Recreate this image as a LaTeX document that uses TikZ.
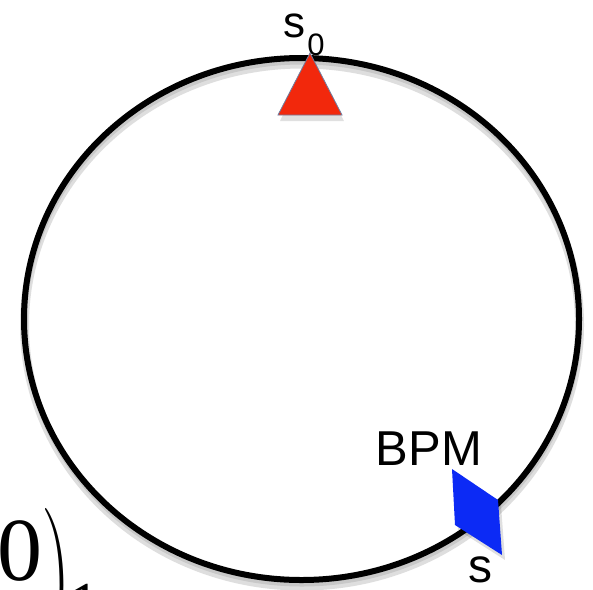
\documentclass[tikz,border=0pt]{standalone}
\usepackage{fontspec}
\setmainfont{Liberation Sans}
\newfontfamily\serifF{Liberation Serif}
\newfontfamily\lmF{Latin Modern Roman}
\definecolor{ringshadow}{RGB}{200,200,200}
\definecolor{trired}{RGB}{242,40,12}
\definecolor{triedge}{RGB}{110,125,160}
\definecolor{bpmblue}{RGB}{12,42,245}
\tikzset{
  ring/.style={draw=black, line width=6pt},
  lbl/.style={inner sep=0pt, anchor=base, text=black},
  shade/.style={fill=black, opacity=0.12, draw=none},
}
\begin{document}
\begin{tikzpicture}[x=1pt,y=-1pt]
\useasboundingbox (0,0) rectangle (593,589);
\clip (0,0) rectangle (593,589);
\fill[white] (0,0) rectangle (593,589);
% ring shadow
\draw[ringshadow!60, line width=9pt] (302,325) ellipse [x radius=277.5, y radius=261];
\draw[ringshadow, line width=5pt] (302,323) ellipse [x radius=277.5, y radius=261];
% ring
\draw[ring] (301.5,319) ellipse [x radius=277.5, y radius=261];
% triangle shadow
\fill[shade] (311,58) -- (344,121) -- (280,121) -- cycle;
% triangle marker at s0
\coordinate (apex) at (310,53);
\coordinate (tl) at (278,115);
\coordinate (tr) at (342,115);
\filldraw[fill=trired, draw=triedge, line width=0.8pt] (apex) -- (tr) -- (tl) -- cycle;
% BPM shadow
\fill[shade] (455,474) -- (501,505) -- (505,560) -- (458,530) -- cycle;
% BPM marker
\coordinate (b1) at (452,469);
\coordinate (b2) at (498,500);
\coordinate (b3) at (502,555);
\coordinate (b4) at (455,525);
\fill[bpmblue] (b1) -- (b2) -- (b3) -- (b4) -- cycle;
% labels
\node[lbl, font=\fontsize{44}{50}\selectfont] (s0s) at (294,37) {s};
\node[lbl, font=\fontsize{31}{36}\selectfont] (s0sub) at (316,55) {0};
\node[lbl, font=\fontsize{49}{56}\selectfont] (bpm) at (429,465) {BPM};
\node[lbl, font=\fontsize{48}{54}\selectfont] (s) at (480,582) {s};
% cropped formula fragment at bottom left
\node[inner sep=0pt, anchor=base west, font=\serifF\fontsize{90}{100}\selectfont] (frag) at (-3,580) {0};
\node[inner sep=0pt, anchor=base west, font=\lmF\fontsize{100}{110}\selectfont] (fragparen) at (41,624) {\scalebox{0.85}[1.55]{)}};
\node[inner sep=0pt, anchor=base west, font=\serifF\fontsize{64}{70}\selectfont] (fragsub) at (68,626) {1};
\end{tikzpicture}
\end{document}
